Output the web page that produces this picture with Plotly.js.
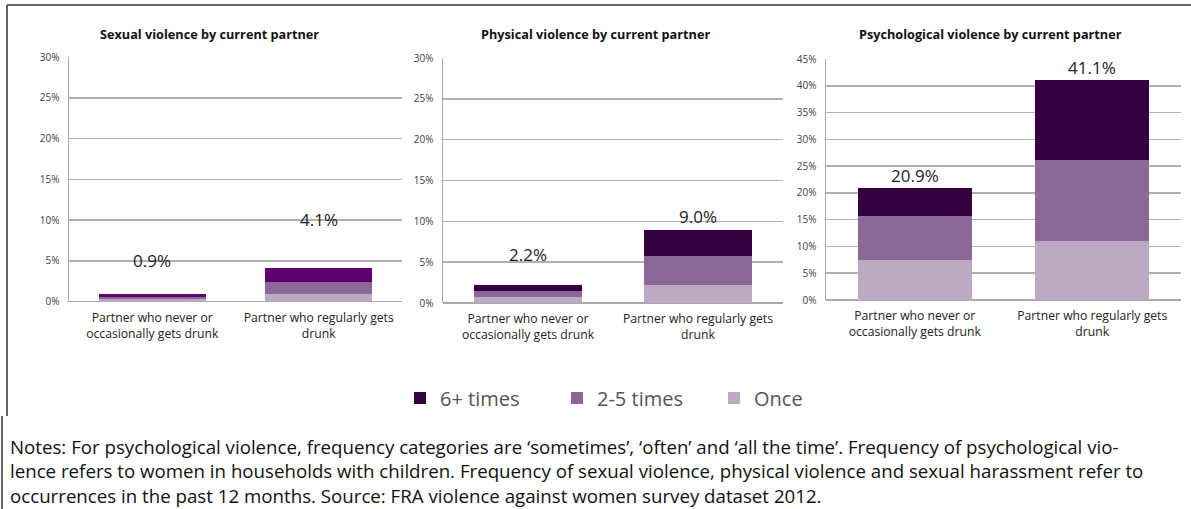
<!DOCTYPE html>
<html>
<head>
<meta charset="utf-8">
<script src="https://cdn.plot.ly/plotly-3.0.1.min.js"></script>
<style>html,body{margin:0;padding:0;background:#fff;}#chart{width:1191px;height:509px;}</style>
</head>
<body>
<div id="chart"></div>
<script>
// ---- data ----
const categories = ["Partner who never or<br>occasionally gets drunk", "Partner who regularly gets<br>drunk"];
const panelTitles = ["Sexual violence by current partner", "Physical violence by current partner", "Psychological violence by current partner"];
const seriesNames = ["6+ times", "2-5 times", "Once"];
// values per panel, per series (in %), [never/occasionally, regularly]
const sexualOnce = [0.3, 0.9];
const sexualTwoToFive = [0.3, 1.5];
const sexualSixPlus = [0.3, 1.7];
const physicalOnce = [0.7, 2.2];
const physicalTwoToFive = [0.8, 3.5];
const physicalSixPlus = [0.7, 3.3];
const psychOnce = [7.5, 11.1];
const psychTwoToFive = [8.1, 15.0];
const psychSixPlus = [5.3, 15.0];
const yMax = [30, 30, 45];
const notesText = "Notes: For psychological violence, frequency categories are ‘sometimes’, ‘often’ and ‘all the time’. Frequency of psychological vio-<br>lence refers to women in households with children. Frequency of sexual violence, physical violence and sexual harassment refer to<br>occurrences in the past 12 months. Source: FRA violence against women survey dataset 2012.";

// ---- styling ----
const W = 1191, H = 509;
const px = v => v / W;
const py = v => 1 - v / H;
const FONT = "Open Sans, DejaVu Sans, sans-serif";
const colOnce = "#bcaac4", colMid = "#8c6899", colDark = "#35003f", colDark1 = "#600070";

const panels = [
  {once: sexualOnce, mid: sexualTwoToFive, six: sexualSixPlus, dark: colDark1,
   xd: [px(69), px(402)], yd: [py(301.5), py(57)], labelOffset: [4.1, 6.0], titleX: 209},
  {once: physicalOnce, mid: physicalTwoToFive, six: physicalSixPlus, dark: colDark,
   xd: [px(443), px(783)], yd: [py(303), py(58)], labelOffset: [3.7, 1.6], titleX: 595},
  {once: psychOnce, mid: psychTwoToFive, six: psychSixPlus, dark: colDark,
   xd: [px(826), px(1181)], yd: [py(300), py(59)], labelOffset: [2.4, 2.4], titleX: 990}
];

const traces = [];
const annotations = [];
const layout = {
  width: W, height: H,
  margin: {l: 0, r: 0, t: 0, b: 0},
  paper_bgcolor: "#fff", plot_bgcolor: "#fff",
  barmode: "stack", bargap: 0.36,
  font: {family: FONT, color: "#333"},
  showlegend: true,
  legend: {orientation: "h", x: px(400), xanchor: "left", y: py(398), yanchor: "middle",
           font: {size: 20, color: "#555", family: FONT}, entrywidth: 112, entrywidthmode: "pixels",
           traceorder: "normal", itemclick: false, itemdoubleclick: false},
  shapes: [
    {type: "line", xref: "paper", yref: "paper", x0: px(7), x1: 1.01, y0: py(5), y1: py(5), line: {color: "#333", width: 1.5}},
    {type: "line", xref: "paper", yref: "paper", x0: px(7), x1: px(7), y0: py(5), y1: py(416), line: {color: "#333", width: 1.5}},
    {type: "line", xref: "paper", yref: "paper", x0: px(2), x1: px(2), y0: py(416), y1: -0.01, line: {color: "#333", width: 1.5}}
  ],
  annotations: annotations
};

panels.forEach((p, i) => {
  const n = i === 0 ? "" : String(i + 1);
  const xa = "x" + n, ya = "y" + n;
  const stacks = [
    {name: seriesNames[2], vals: p.once, color: colOnce},
    {name: seriesNames[1], vals: p.mid, color: colMid},
    {name: seriesNames[0], vals: p.six, color: p.dark}
  ];
  stacks.forEach(s => {
    traces.push({
      type: "bar", x: categories, y: s.vals, name: s.name, xaxis: xa, yaxis: ya,
      marker: {color: s.color, line: {width: 0}},
      showlegend: false, hoverinfo: "skip"
    });
  });
  layout["xaxis" + n] = {
    domain: p.xd, anchor: ya, type: "category",
    showline: false, showgrid: false, zeroline: false, ticks: "", ticklabelstandoff: 7,
    tickfont: {size: 12.2, color: "#222", family: FONT}, fixedrange: true
  };
  layout["yaxis" + n] = {
    domain: p.yd, anchor: xa, range: [0, yMax[i]], dtick: 5, ticksuffix: "%",
    showline: true, linecolor: "#a8a8a8", linewidth: 1.5,
    showgrid: true, gridcolor: "#b0b0b0", gridwidth: 1.5,
    zeroline: true, zerolinecolor: "#a8a8a8", zerolinewidth: 1.5,
    ticks: "", ticklabelstandoff: 6,
    tickfont: {size: 10, color: "#404040", family: FONT}, fixedrange: true
  };
  // title
  annotations.push({xref: "paper", yref: "paper", x: px(p.titleX), y: py(34), xanchor: "center", yanchor: "middle",
    text: "<b>" + panelTitles[i] + "</b>", showarrow: false, font: {size: 12.7, color: "#111", family: FONT}});
  // totals labels
  categories.forEach((c, k) => {
    const total = p.once[k] + p.mid[k] + p.six[k];
    annotations.push({xref: xa, yref: ya, x: c, y: total + p.labelOffset[k], yanchor: "middle",
      text: total.toFixed(1) + "%", showarrow: false, font: {size: 17, color: "#222", family: FONT}});
  });
});

// legend entries (from series names, colours as in legend)
const legendColors = [colDark, colMid, colOnce];
seriesNames.forEach((nm, j) => {
  traces.push({type: "bar", x: [null], y: [null], name: nm, xaxis: "x2", yaxis: "y2",
    marker: {color: legendColors[j]}, showlegend: true, hoverinfo: "skip"});
});

annotations.push({xref: "paper", yref: "paper", x: px(9), y: py(470.5), xanchor: "left", yanchor: "middle", align: "left",
  borderpad: 0,
  text: notesText, showarrow: false, font: {size: 18.7, color: "#111", family: FONT}});

Plotly.newPlot("chart", traces, layout, {displayModeBar: false, staticPlot: true});
</script>
</body>
</html>
